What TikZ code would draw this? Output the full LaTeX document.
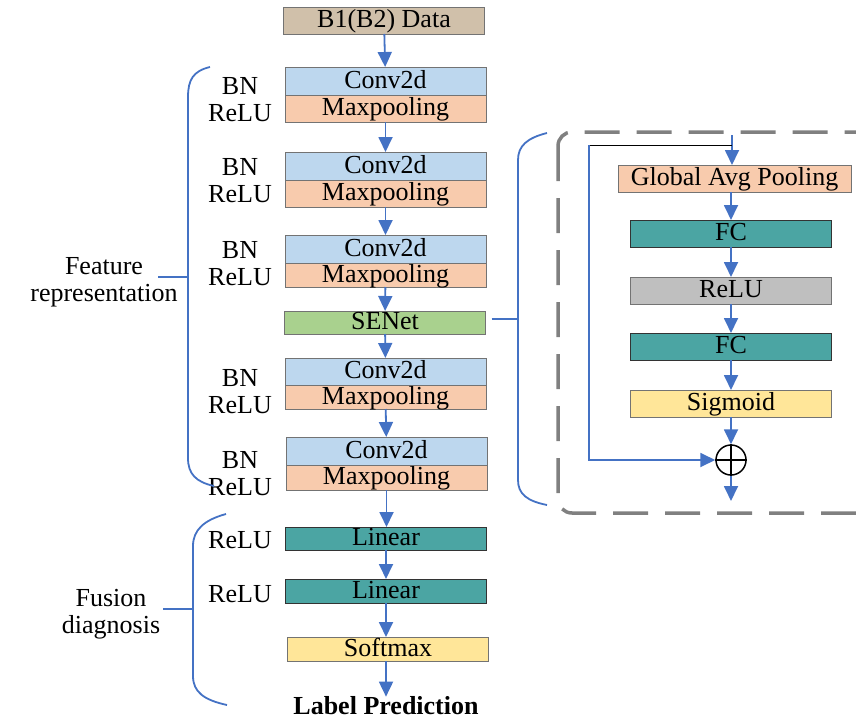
\documentclass[tikz,border=0pt]{standalone}
\usepackage{fontspec}
\setmainfont{Liberation Serif}
\newfontfamily\netfont{Liberation Serif}
\usetikzlibrary{arrows.meta,positioning}
\definecolor{nettan}{RGB}{208,192,170}
\definecolor{netblue}{RGB}{189,215,238}
\definecolor{netpeach}{RGB}{248,203,173}
\definecolor{netgreen}{RGB}{169,209,142}
\definecolor{netteal}{RGB}{75,165,163}
\definecolor{netyellow}{RGB}{255,230,153}
\definecolor{netgray}{RGB}{191,191,191}
\definecolor{netarrow}{RGB}{68,114,196}
\definecolor{netdash}{RGB}{128,128,128}

\begin{document}
\begin{tikzpicture}[
  x=1pt, y=-1pt,
  font=\netfont\fontsize{26}{27}\selectfont,
  layer/.style={
    rectangle, draw=black!55, line width=0.8pt,
    minimum width=201pt, minimum height=27pt,
    inner sep=0pt, outer sep=0pt,
    text height=18pt, text depth=4pt
  },
  conv/.style={layer, fill=netblue},
  pool/.style={layer, fill=netpeach},
  dense/.style={layer, fill=netteal, draw=black!80},
  note/.style={align=center, inner sep=0pt},
  arr/.style={-{Triangle[length=15pt,width=14pt]}, line width=1.8pt, draw=netarrow},
  brace/.style={line width=1.8pt, draw=netarrow}
]
\clip (0,0) rectangle (856,720);

% Input
\node[layer, fill=nettan, minimum height=27pt] (data) at (384,20.5) {B1(B2) Data};

% Block 1
\node[conv, minimum height=28pt] (c1) at (385.5,81) {Conv2d};
\node[pool, below=0pt of c1] (m1) {Maxpooling};
\node[note] (n1) at (240,100) {BN\\ReLU};

% Block 2
\node[conv, minimum height=28pt] (c2) at (385.5,166) {Conv2d};
\node[pool, below=0pt of c2] (m2) {Maxpooling};
\node[note] (n2) at (240,181) {BN\\ReLU};

% Block 3
\node[conv, minimum height=28pt] (c3) at (385.5,249) {Conv2d};
\node[pool, below=0pt of c3, minimum height=24pt] (m3) {Maxpooling};
\node[note] (n3) at (240,264) {BN\\ReLU};

% Attention
\node[layer, fill=netgreen, minimum height=23pt] (se) at (385,322.5) {SENet};

% Block 4
\node[conv] (c4) at (385.5,371.5) {Conv2d};
\node[pool, below=0pt of c4, minimum height=24pt] (m4) {Maxpooling};
\node[note] (n4) at (240,392) {BN\\ReLU};

% Block 5
\node[conv, minimum height=28pt] (c5) at (386.5,451) {Conv2d};
\node[pool, below=0pt of c5, minimum height=25pt] (m5) {Maxpooling};
\node[note] (n5) at (240,474) {BN\\ReLU};

% Classifier
\node[dense, minimum height=23pt] (l1) at (386,538.5) {Linear};
\node[note] (r1) at (240,540) {ReLU};
\node[dense, minimum height=24pt] (l2) at (386,591) {Linear};
\node[note] (r2) at (240,594) {ReLU};
\node[layer, fill=netyellow, minimum height=24pt] (soft) at (388,649) {Softmax};
\node[inner sep=0pt, font=\netfont\fontsize{26}{27}\selectfont\bfseries] (pred) at (386,706) {Label Prediction};

\draw[arr] (data) -- (c1);
\draw[arr] (m1) -- (c2);
\draw[arr] (m2) -- (c3);
\draw[arr] (m3) -- (se);
\draw[arr] (se) -- (c4);
\draw[arr] (m4) -- (c5);
\draw[arr] (m5.south) -- (m5.south |- l1.north);
\draw[arr] (l1) -- (l2);
\draw[arr] (l2.south) -- (l2.south |- soft.north);
\draw[arr] (soft.south -| pred.north) -- (pred.north);

% Braces on the left
\draw[brace] (210,67) .. controls (193,71) and (188,80) .. (188,97) -- (188,458)
  .. controls (188,474) and (196,482) .. (214,486);
\coordinate (b1) at (188,277);
\coordinate (b1tip) at (158,277);
\draw[brace] (b1tip) -- (b1);
\node[note] (feat) at (104,282) {Feature\\representation};

\draw[brace] (226,514) .. controls (204,520) and (193,530) .. (193,546) -- (193,676)
  .. controls (193,692) and (204,700) .. (227,705);
\coordinate (b2) at (193,609);
\coordinate (b2tip) at (163,609);
\draw[brace] (b2tip) -- (b2);
\node[note] (fuse) at (111,614) {Fusion\\diagnosis};

% SE detail
\draw[brace] (547,133) .. controls (527,138) and (518,146) .. (518,160) -- (518,480)
  .. controls (518,494) and (527,501) .. (547,505);
\coordinate (b3) at (518,319);
\draw[brace] (se.east |- b3) ++(6,0) -- (b3);

\draw[netdash, line width=3.5pt, dash pattern=on 35pt off 17pt, rounded corners=14pt]
  (558,132) rectangle (900,513);

\node[layer, fill=netpeach, minimum width=233pt] (gap) at (734.5,178.5) {Global Avg Pooling};
\node[dense] (fc1) at (731,233.5) {FC};
\node[layer, fill=netgray] (relu) at (731,290.5) {ReLU};
\node[dense] (fc2) at (731,346.5) {FC};
\node[layer, fill=netyellow] (sig) at (731,403.5) {Sigmoid};
\node[circle, draw, line width=1.5pt, minimum size=30pt, inner sep=0pt] (plus) at (731,460) {};
\draw[line width=2.5pt] (plus.north) -- (plus.south) (plus.west) -- (plus.east);

\coordinate (seIn) at (732,135);
\coordinate (skip) at (589,145);
\coordinate (seOut) at (731,501);
\draw[arr] (seIn) -- (seIn |- gap.north);
\draw[black, line width=0.8pt] (skip) -- (seIn |- skip);
\draw[arr] (skip) |- (plus.west);
\draw[arr] (gap.south -| fc1) -- (fc1);
\draw[arr] (fc1) -- (relu);
\draw[arr] (relu) -- (fc2);
\draw[arr] (fc2) -- (sig);
\draw[arr] (sig) -- (plus);
\draw[arr] (plus) -- (seOut);
\end{tikzpicture}
\end{document}
